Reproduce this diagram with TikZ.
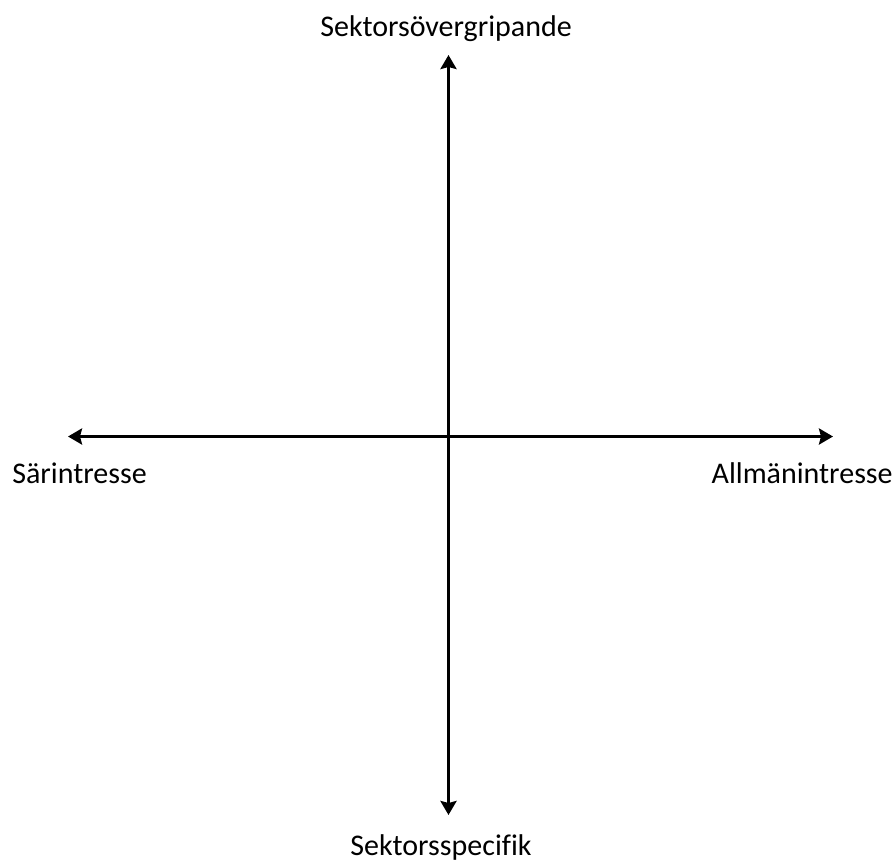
\documentclass[tikz,border=0pt]{standalone}
\usepackage{fontspec}
\setmainfont[Ligatures=NoCommon]{Carlito}
\usetikzlibrary{arrows.meta}

\begin{document}
\begin{tikzpicture}[
    x=0.02cm, y=-0.02cm,
    axis/.style={line width=2.1pt, {Stealth[length=0.28cm, width=0.32cm, inset=0.04cm]}-{Stealth[length=0.28cm, width=0.32cm, inset=0.04cm]}},
    label/.style={inner sep=0pt, font=\fontsize{17.07}{20}\selectfont},
]
\useasboundingbox (0,0) rectangle (894,860);

% Axis end points
\coordinate (west) at (68, 436.5);
\coordinate (east) at (833, 436.5);
\coordinate (north) at (448.5, 55);
\coordinate (south) at (448.5, 815);

% Axes
\draw[axis] (west) -- (east);
\draw[axis] (south) -- (north);

% Labels
\node[label, anchor=base] (top) at (446, 36) {Sektorsövergripande};
\node[label, anchor=base] (bottom) at (441, 855) {Sektorsspecifik};
\node[label, anchor=base west] (left) at (12, 483) {Särintresse};
\node[label, anchor=base east] (right) at (893, 483) {Allmänintresse};

\end{tikzpicture}
\end{document}
